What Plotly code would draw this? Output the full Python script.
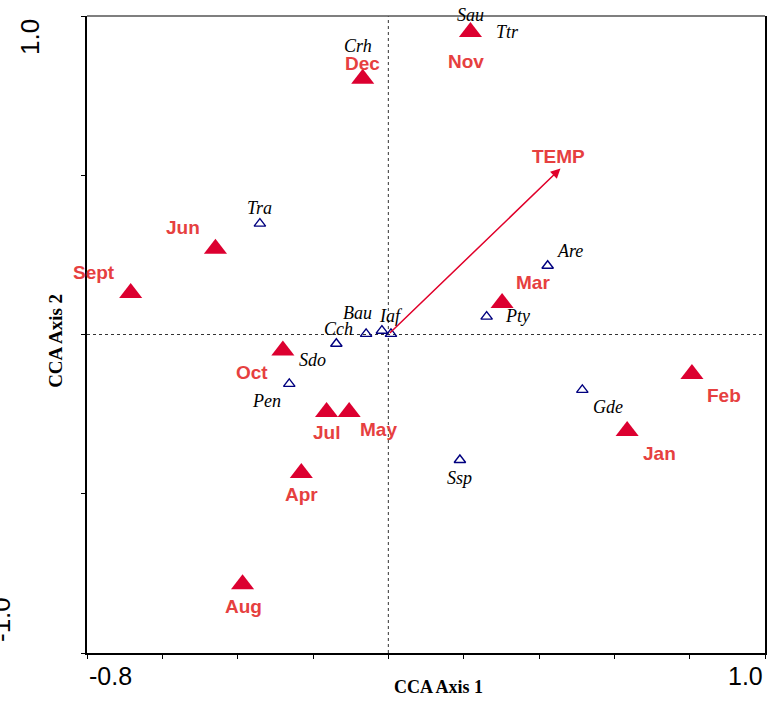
import plotly.graph_objects as go

# Sample (month) scores on the first two CCA axes
months = ["Nov", "Dec", "Jun", "Sept", "Mar", "Oct", "Feb", "Jul", "May", "Jan", "Apr", "Aug"]
month_ax1 = [0.218, -0.068, -0.459, -0.684, 0.302, -0.280, 0.806, -0.164, -0.104, 0.634, -0.231, -0.387]
month_ax2 = [0.950, 0.803, 0.269, 0.130, 0.099, -0.050, -0.124, -0.243, -0.243, -0.303, -0.435, -0.784]

# Species scores
species = ["Sau", "Ttr", "Crh", "Tra", "Are", "Pty", "Bau", "Iaf", "", "Cch", "Sdo", "Pen", "Gde", "Ssp"]
species_ax1 = [0.218, 0.218, -0.068, -0.341, 0.423, 0.261, -0.059, -0.017, 0.007, -0.138, -0.280, -0.263, 0.515, 0.190]
species_ax2 = [0.950, 0.950, 0.805, 0.348, 0.216, 0.056, 0.002, 0.012, 0.002, -0.029, -0.048, -0.155, -0.174, -0.394]

# Environmental biplot vector
env_var = "TEMP"
env_ax1 = 0.457
env_ax2 = 0.521

# Axis extents and tick labels
x_range = [-0.8, 1.0]
y_range = [-1.0, 1.0]
x_tick_labels = ["-0.8", "1.0"]
y_tick_labels = ["1.0", "-1.0"]

# Label offsets in pixels (dx right, dy up)
month_offsets = {
    "Nov": (-4, -30), "Dec": (0, 15), "Jun": (-32, 21), "Sept": (-37, 21),
    "Mar": (31, 20), "Oct": (-31, -22), "Feb": (32, -22), "Jul": (0, -21),
    "May": (29, -18), "Jan": (32, -22), "Apr": (0, -21), "Aug": (1, -22),
}
species_offsets = {
    "Sau": (0, 17), "Ttr": (37, 0), "Crh": (-5, 32), "Tra": (0, 16),
    "Are": (22, 15), "Pty": (31, 1), "Bau": (-9, 21), "Iaf": (9, 15),
    "Cch": (2, 15), "Sdo": (30, -10), "Pen": (-23, -17), "Gde": (26, -17),
    "Ssp": (0, -18),
}

RED_MARK = "#dc0030"
RED_TEXT = "#e6403f"
BLUE = "#00007f"
SANS = "Liberation Sans, Arial, sans-serif"
SERIF = "Liberation Serif, Times New Roman, serif"

fig = go.Figure()

fig.add_trace(go.Scatter(
    x=species_ax1, y=species_ax2, mode="markers",
    marker=dict(symbol="triangle-up-open", size=10, color=BLUE, line=dict(width=1.4, color=BLUE)),
    hoverinfo="text", text=species, showlegend=False,
))
fig.add_trace(go.Scatter(
    x=month_ax1, y=month_ax2, mode="markers",
    marker=dict(symbol="triangle-up", size=20, color=RED_MARK, line=dict(width=0)),
    hoverinfo="text", text=months, showlegend=False,
))

annotations = []
for name, xv, yv in zip(species, species_ax1, species_ax2):
    if not name:
        continue
    dx, dy = species_offsets[name]
    annotations.append(dict(
        x=xv, y=yv, xref="x", yref="y", text=f"<i>{name}</i>", showarrow=False,
        xanchor="center", yanchor="middle",
        xshift=dx, yshift=dy, font=dict(family=SERIF, size=18, color="black"),
    ))
for name, xv, yv in zip(months, month_ax1, month_ax2):
    dx, dy = month_offsets[name]
    annotations.append(dict(
        x=xv, y=yv, xref="x", yref="y", text=f"<b>{name}</b>", showarrow=False,
        xanchor="center", yanchor="middle",
        xshift=dx, yshift=dy, font=dict(family=SANS, size=19, color=RED_TEXT),
    ))

# TEMP vector
annotations.append(dict(
    x=env_ax1, y=env_ax2, xref="x", yref="y", ax=0, ay=0, axref="x", ayref="y",
    text="", showarrow=True, arrowhead=2, arrowsize=1.3, arrowwidth=1.5, arrowcolor="#e0002a",
))
annotations.append(dict(
    x=env_ax1, y=env_ax2, xref="x", yref="y", text=f"<b>{env_var}</b>", showarrow=False,
    xanchor="center", yanchor="middle",
    xshift=-2, yshift=12, font=dict(family=SANS, size=19, color=RED_TEXT),
))

# End tick labels
annotations += [
    dict(x=0, y=0, xref="paper", yref="paper", text=x_tick_labels[0], showarrow=False,
         xanchor="left", yanchor="middle", yshift=-23, font=dict(family=SANS, size=25, color="black")),
    dict(x=1, y=0, xref="paper", yref="paper", text=x_tick_labels[1], showarrow=False,
         xanchor="right", yanchor="middle", yshift=-23, font=dict(family=SANS, size=25, color="black")),
    dict(x=0, y=1, xref="paper", yref="paper", text=y_tick_labels[0], showarrow=False,
         xanchor="center", yanchor="middle",
         textangle=-90, xshift=-57, yshift=-21, font=dict(family=SANS, size=26, color="black")),
    dict(x=0, y=0, xref="paper", yref="paper", text=y_tick_labels[1], showarrow=False,
         xanchor="center", yanchor="middle",
         textangle=-90, xshift=-86, yshift=33, font=dict(family=SANS, size=26, color="black")),
]

# Axis titles
annotations += [
    dict(x=0.519, y=0, xref="paper", yref="paper", text="<b>CCA Axis 1</b>", showarrow=False,
         xanchor="center", yanchor="middle",
         yshift=-34, font=dict(family=SERIF, size=18, color="black")),
    dict(x=0, y=0.49, xref="paper", yref="paper", text="<b>CCA Axis 2</b>", showarrow=False,
         xanchor="center", yanchor="middle",
         textangle=-90, xshift=-31, font=dict(family=SERIF, size=19, color="black")),
]

shapes = [
    dict(type="line", xref="x", yref="y", x0=0, x1=0, y0=y_range[0], y1=y_range[1],
         line=dict(color="#333333", width=1, dash="dot"), layer="below"),
    dict(type="line", xref="x", yref="y", x0=x_range[0], x1=x_range[1], y0=0, y1=0,
         line=dict(color="#333333", width=1, dash="dot"), layer="below"),
    dict(type="line", xref="paper", yref="paper", x0=0, x1=1, y0=1, y1=1,
         line=dict(color="#555555", width=1.5)),
]

fig.update_layout(
    width=769, height=701,
    margin=dict(l=87, r=2, t=16, b=48),
    paper_bgcolor="white", plot_bgcolor="white",
    annotations=annotations, shapes=shapes,
)
fig.update_xaxes(
    range=x_range, showgrid=False, zeroline=False, showticklabels=False,
    tick0=-0.8, dtick=0.2, ticks="outside", ticklen=4, tickcolor="black",
    showline=True, linecolor="black", linewidth=1.5, mirror=False,
)
fig.update_yaxes(
    range=y_range, showgrid=False, zeroline=False, showticklabels=False,
    tick0=-1.0, dtick=0.5, ticks="outside", ticklen=4, tickcolor="black",
    showline=True, linecolor="black", linewidth=1.5, mirror=True,
)

fig.write_html("out.html")
